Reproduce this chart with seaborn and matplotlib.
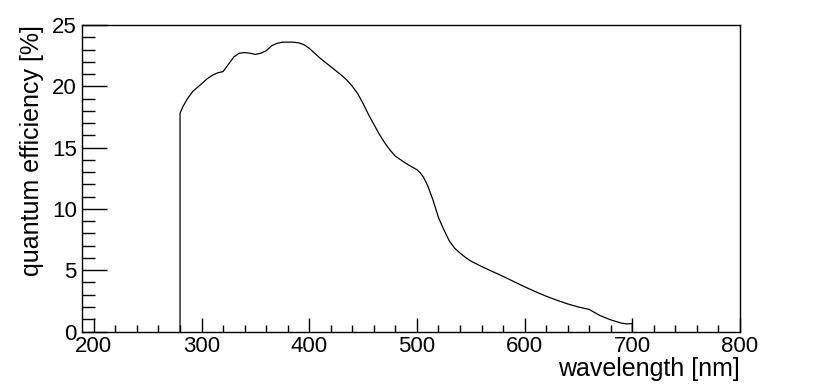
import matplotlib
matplotlib.use("Agg")
import matplotlib.pyplot as plt
import seaborn as sns
from matplotlib.ticker import MultipleLocator

# quantum efficiency curve (wavelength in nm, QE in %)
wavelength = [280, 280, 283, 287, 292, 296, 300, 305, 310, 315, 320, 325, 330, 335,
              340, 345, 350, 355, 360, 365, 370, 375, 380, 385, 390, 395, 400, 405,
              410, 415, 420, 425, 430, 435, 440, 445, 450, 455, 460, 465, 470, 475,
              480, 485, 490, 495, 500, 503, 506, 510, 515, 520, 525, 530, 535, 540,
              545, 550, 560, 570, 580, 590, 600, 610, 620, 630, 640, 650, 660, 665,
              670, 680, 690, 695, 700, 700]
efficiency = [0.0, 17.8, 18.4, 19.0, 19.6, 19.9, 20.2, 20.6, 20.9, 21.1, 21.2, 21.8, 22.4, 22.7,
              22.75, 22.7, 22.6, 22.7, 22.9, 23.3, 23.5, 23.6, 23.6, 23.6, 23.55, 23.4, 23.1, 22.7,
              22.3, 21.95, 21.6, 21.25, 20.9, 20.5, 20.0, 19.4, 18.6, 17.7, 16.9, 16.1, 15.4, 14.8,
              14.3, 14.0, 13.7, 13.45, 13.2, 12.95, 12.6, 11.9, 10.7, 9.3, 8.3, 7.4, 6.8, 6.4,
              6.05, 5.75, 5.3, 4.9, 4.5, 4.07, 3.65, 3.25, 2.88, 2.55, 2.25, 2.0, 1.8, 1.55,
              1.3, 0.95, 0.68, 0.62, 0.65, 0.0]

x_ticks = [200, 300, 400, 500, 600, 700, 800]
y_ticks = [0, 5, 10, 15, 20, 25]

sns.set_style("ticks")
plt.rcParams['font.family'] = ['Liberation Sans', 'DejaVu Sans']

fig = plt.figure(figsize=(8.22, 3.84), dpi=100)
ax = fig.add_axes([0.0998, 0.1367, 0.8004, 0.7982])

sns.lineplot(x=wavelength, y=efficiency, sort=False, estimator=None,
             color='black', linewidth=0.9, ax=ax)

ax.set_xlim(189, 800)
ax.set_ylim(0, 25)
ax.set_xticks(x_ticks)
ax.set_yticks(y_ticks)
ax.xaxis.set_minor_locator(MultipleLocator(20))
ax.yaxis.set_minor_locator(MultipleLocator(1))

ax.tick_params(axis='both', which='both', direction='in', top=False, right=False,
               labelsize=16, color='black', labelcolor='black')
ax.tick_params(axis='y', which='major', length=18, width=1, pad=3.8)
ax.tick_params(axis='y', which='minor', length=9, width=1)
ax.tick_params(axis='x', which='major', length=10, width=1, pad=3.5)
ax.tick_params(axis='x', which='minor', length=5, width=1)

for side in ['left', 'right', 'top', 'bottom']:
    ax.spines[side].set_visible(True)
    ax.spines[side].set_color('black')
    ax.spines[side].set_linewidth(1.0)

ax.set_xlabel('wavelength [nm]', fontsize=18, loc='right', labelpad=0, color='black')
ax.set_ylabel('quantum efficiency [%]', fontsize=18, loc='top', labelpad=6, color='black')

fig.savefig('out.png', dpi=100)
